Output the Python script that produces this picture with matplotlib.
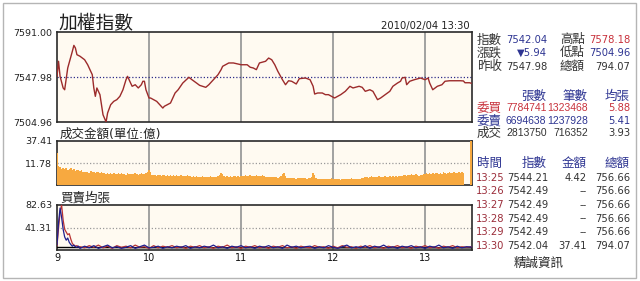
"""
TAIEX intraday snapshot (2010/02/04): index line, per-minute turnover and
average bid/ask size, with the quote board on the right.
"""
import matplotlib

matplotlib.use("Agg")
import matplotlib.pyplot as plt
import numpy as np
from matplotlib.patches import Rectangle

plt.rcParams["font.family"] = ["DejaVu Sans", "Noto Sans CJK TC"]

# ---------------------------------------------------------------------------
# Data (minutes after 09:00)
# ---------------------------------------------------------------------------

IDX_MIN = [
    0, 1, 2, 4, 5, 7, 10, 11, 12, 13,
    15, 18, 20, 23, 24, 25, 26, 28, 29, 30,
    32, 33, 35, 37, 39, 41, 43, 45, 46, 48,
    49, 51, 53, 55, 56, 57, 58, 60, 61, 63,
    65, 67, 69, 70, 74, 77, 79, 82, 86, 88,
    91, 93, 97, 99, 102, 105, 107, 108, 112, 115,
    118, 120, 124, 126, 128, 130, 132, 136, 138, 140,
    142, 144, 147, 149, 151, 153, 156, 158, 162, 165,
    167, 168, 170, 173, 175, 177, 179, 181, 185, 188,
    191, 193, 197, 199, 201, 204, 206, 209, 211, 214,
    217, 219, 222, 224, 225, 227, 228, 230, 233, 237,
    240, 242, 243, 245, 248, 251, 253, 256, 260, 263,
    265, 266, 269, 270,
]
IDX_VAL = [
    7548.5, 7563.0, 7548.6, 7537.5, 7535.8, 7556.6, 7572.5, 7578.2, 7575.7, 7569.3,
    7567.8, 7564.5, 7559.7, 7550.2, 7537.5, 7529.5, 7537.5, 7531.1, 7521.5, 7511.9,
    7504.96, 7513.6, 7521.5, 7524.7, 7526.3, 7529.5, 7535.8, 7545.4, 7548.6, 7542.2,
    7539.1, 7540.6, 7537.5, 7540.6, 7543.9, 7543.9, 7535.8, 7527.9, 7527.9, 7526.3,
    7524.7, 7521.5, 7518.3, 7520.0, 7523.1, 7532.7, 7535.8, 7542.2, 7547.7, 7545.4,
    7542.2, 7540.0, 7538.1, 7540.6, 7545.4, 7550.2, 7555.0, 7558.2, 7561.4, 7561.4,
    7560.4, 7559.7, 7559.7, 7557.3, 7556.6, 7555.0, 7561.4, 7563.0, 7566.1, 7564.5,
    7559.7, 7553.4, 7545.4, 7540.6, 7544.4, 7543.9, 7541.3, 7546.4, 7547.0, 7545.4,
    7539.1, 7531.7, 7532.7, 7532.7, 7531.1, 7531.1, 7529.5, 7527.9, 7531.1, 7534.3,
    7539.1, 7537.5, 7539.1, 7538.1, 7534.3, 7535.8, 7534.3, 7526.3, 7527.9, 7531.1,
    7534.3, 7539.1, 7542.2, 7543.9, 7547.0, 7547.7, 7540.6, 7543.9, 7545.4, 7547.0,
    7545.4, 7547.0, 7542.2, 7535.8, 7539.1, 7540.6, 7543.9, 7544.4, 7544.4, 7544.4,
    7544.21, 7542.49, 7542.49, 7542.04,
]
PREV_CLOSE = 7547.98
IDX_TICKS = [7504.96, 7547.98, 7591.00]

# turnover per minute (億), 09:00 .. 13:30
VOLUME = [
    22.0, 9.4, 8.1, 7.2, 7.8, 6.6, 7.3, 6.0, 6.9, 7.5,
    6.2, 6.8, 5.7, 6.4, 5.9, 5.3, 6.1, 4.8, 5.2, 4.6,
    5.0, 4.4, 5.3, 4.7, 4.9, 4.3, 5.1, 4.6, 4.2, 4.8,
    4.0, 4.5, 3.8, 4.2, 3.6, 4.1, 3.9, 4.4, 3.7, 3.5,
    4.0, 3.8, 4.3, 3.6, 3.9, 3.4, 4.1, 3.7, 3.5, 3.9,
    3.6, 4.2, 3.8, 3.3, 3.7, 4.0, 3.5, 3.8, 4.4, 5.1,
    6.0, 4.6, 3.4, 3.1, 3.3, 2.9, 3.2, 3.0, 2.8, 3.3,
    3.0, 2.7, 3.2, 2.9, 3.1, 2.6, 3.0, 2.8, 3.3, 2.9,
    2.7, 3.1, 2.8, 2.5, 2.9, 3.0, 2.6, 2.8, 2.4, 2.7,
    2.3, 2.5, 2.2, 2.4, 2.1, 2.6, 2.3, 2.0, 2.4, 2.2,
    2.5, 2.1, 2.3, 2.0, 2.4, 2.6, 3.2, 4.3, 3.6, 2.5,
    2.4, 2.7, 2.3, 2.6, 2.2, 2.5, 2.8, 2.4, 2.6, 2.3,
    2.7, 2.9, 2.6, 3.0, 2.8, 2.5, 3.1, 2.7, 2.9, 2.6,
    3.0, 2.8, 2.6, 2.9, 3.2, 2.7, 2.4, 2.2, 2.0, 2.3,
    2.1, 2.4, 2.0, 2.2, 1.9, 2.3, 2.6, 3.5, 4.0, 2.8,
    1.9, 1.7, 1.8, 1.6, 1.9, 1.7, 1.5, 1.8, 1.6, 1.9,
    1.7, 1.8, 1.6, 1.5, 1.9, 1.7, 2.4, 4.1, 3.3, 1.8,
    1.4, 1.3, 1.5, 1.2, 1.4, 1.3, 1.5, 1.2, 1.4, 1.6,
    1.3, 1.2, 1.4, 1.5, 1.3, 1.1, 1.4, 1.3, 1.2, 1.5,
    1.4, 1.3, 1.6, 1.2, 1.4, 1.3, 1.5, 1.4, 1.2, 1.6,
    1.7, 2.0, 2.3, 1.9, 2.2, 2.5, 2.1, 2.4, 2.0, 2.3,
    2.6, 2.2, 2.0, 2.4, 2.7, 2.1, 2.3, 2.5, 2.2, 2.6,
    2.4, 2.8, 2.3, 2.5, 2.9, 2.6, 3.0, 3.3, 2.9, 3.4,
    3.1, 3.5, 3.0, 3.3, 3.6, 3.2, 2.9, 3.4, 3.1, 3.5,
    3.9, 4.4, 3.7, 4.1, 3.8, 4.3, 3.6, 4.0, 4.5, 3.9,
    4.2, 3.8, 4.6, 4.1, 3.9, 4.4, 4.7, 4.0, 4.3, 4.8,
    4.5, 4.1, 4.9, 4.4, 4.6, 4.42, 0.0, 0.0, 0.0, 0.0,
    37.41,
]
VOL_TICKS = [11.78, 37.41]

# average lot size of bids / asks
SPREAD_MIN = list(range(0, 15)) + list(range(15, 271, 3))
BID_AVG = [
    8, 40, 70, 82.6, 55, 38, 33, 28, 30, 20, 12, 9, 7, 8, 6,
    6, 4, 8, 5, 9, 4, 7, 3, 8, 5,
    7, 4, 9, 5, 6, 3, 8, 4, 7, 5,
    8, 4, 6, 3, 7, 5, 8, 4, 6, 3,
    7, 5, 9, 4, 6, 3, 7, 5, 8, 4,
    6, 3, 7, 5, 8, 4, 6, 3, 7, 5,
    4, 8, 5, 6, 3, 7, 4, 8, 5, 6,
    3, 7, 5, 8, 4, 6, 3, 7, 5, 8,
    4, 6, 3, 7, 5, 8, 4, 6, 3, 7,
    5, 8, 4, 6, 5, 5.88,
]
ASK_AVG = [
    10, 50, 77, 60, 38, 24, 18, 22, 14, 10, 7, 9, 6, 5, 7,
    3, 7, 4, 8, 3, 6, 9, 4, 6, 3,
    5, 8, 3, 6, 9, 4, 5, 7, 3, 6,
    4, 7, 5, 8, 3, 6, 4, 7, 5, 9,
    4, 6, 3, 7, 5, 8, 4, 6, 3, 7,
    5, 8, 4, 6, 3, 9, 5, 7, 4, 6,
    7, 3, 6, 4, 8, 5, 3, 6, 9, 4,
    6, 4, 8, 3, 7, 5, 9, 4, 6, 3,
    7, 5, 8, 4, 6, 3, 7, 5, 9, 4,
    6, 3, 7, 4, 6, 5.41,
]
DEAL_MIN = [0, 90, 270]
DEAL_AVG = [4.6, 4.1, 3.93]
SPREAD_TICKS = [41.31, 82.63]

HOUR_LABELS = ["9", "10", "11", "12", "13"]

# ---------------------------------------------------------------------------
# Style
# ---------------------------------------------------------------------------

W, H = 640, 281
PLOT_L, PLOT_R = 57, 472
X_MAX = 270.6
BG = "#fffaf1"
GRID = "#9a9a9a"
FRAME = "#2a2a2a"
DARK = "#333333"
BLUE = "#2e3592"
RED = "#c8323c"
TIME_RED = "#9b2d3a"
LINE_RED = "#9c2b2b"
ORANGE = "#f7a940"
NUM_SIZE = 7.2
CJK_SIZE = 9


def _axes(fig, top, bottom):
    ax = fig.add_axes([PLOT_L / W, 1 - bottom / H, (PLOT_R - PLOT_L) / W, (bottom - top) / H])
    ax.set_facecolor(BG)
    ax.set_xlim(0, X_MAX)
    for m in range(60, 271, 60):
        ax.axvline(m, color=GRID, lw=1.3, zorder=1)
    ax.set_xticks([])
    ax.tick_params(axis="y", length=0, labelsize=6.8, pad=3.6, labelcolor="#222")
    for sp in ax.spines.values():
        sp.set_color(FRAME)
        sp.set_linewidth(1.2)
    return ax


def _txt(fig, x, y, s, color=DARK, size=NUM_SIZE, ha="left", family=None):
    kw = {"family": family} if family else {}
    fig.text(x / W, 1 - y / H, s, color=color, fontsize=size, ha=ha, va="center", **kw)


# ---------------------------------------------------------------------------
# Figure
# ---------------------------------------------------------------------------

fig = plt.figure(figsize=(W / 100, H / 100), dpi=100)
fig.patch.set_facecolor("white")
fig.patches.append(
    Rectangle((3 / W, 3 / H), 633 / W, 275 / H, transform=fig.transFigure,
              fill=False, ec="#b5b5b5", lw=1.0)
)

# index line
ax1 = _axes(fig, 32, 122)
ax1.set_ylim(IDX_TICKS[0], IDX_TICKS[-1])
ax1.set_yticks(IDX_TICKS, [f"{v:.2f}" for v in IDX_TICKS])
ax1.axhline(PREV_CLOSE, color="#2e2e8a", lw=0.9, ls=(0, (1, 1.6)), zorder=2)
ax1.plot(IDX_MIN, IDX_VAL, color=LINE_RED, lw=1.0, zorder=3)

# turnover
ax2 = _axes(fig, 141, 185)
ax2.set_yscale("function", functions=(lambda v: np.power(np.clip(v, 0, None), 0.6),
                                      lambda v: np.power(np.clip(v, 0, None), 1 / 0.6)))
ax2.set_ylim(0, VOL_TICKS[-1])
ax2.set_yticks(VOL_TICKS, [f"{v:.2f}" for v in VOL_TICKS])
ax2.yaxis.set_minor_locator(matplotlib.ticker.NullLocator())
ax2.axhline(VOL_TICKS[0], color=GRID, lw=0.9, ls=(0, (1, 1.6)), zorder=2)
ax2.bar(np.arange(len(VOLUME)), VOLUME, width=1.0, color=ORANGE, lw=0, zorder=3)

# bid / ask average size
ax3 = _axes(fig, 205, 250)
ax3.set_ylim(0, SPREAD_TICKS[-1])
ax3.set_yticks(SPREAD_TICKS, [f"{v:.2f}" for v in SPREAD_TICKS])
ax3.axhline(SPREAD_TICKS[0], color=GRID, lw=0.9, ls=(0, (1, 1.6)), zorder=2)
ax3.plot(DEAL_MIN, DEAL_AVG, color="black", lw=1.0, zorder=3)
ax3.plot(SPREAD_MIN, BID_AVG, color="#b83232", lw=0.9, zorder=4)
ax3.plot(SPREAD_MIN, ASK_AVG, color="#1f1f8f", lw=0.9, zorder=4)
ax3.set_xticks(range(0, 241, 60), HOUR_LABELS)
ax3.tick_params(axis="x", length=0, labelsize=7, pad=2, labelcolor="#111")

# titles
_txt(fig, 58, 24, "加權指數", color="#222", size=13.5)
_txt(fig, 470, 26, "2010/02/04 13:30", color="#222", ha="right")
_txt(fig, 60, 134, "成交金額(單位:億)", color="#222", size=CJK_SIZE)
_txt(fig, 60, 198, "買賣均張", color="#222", size=CJK_SIZE)

# quote board
_txt(fig, 477, 40, "指數", size=CJK_SIZE)
_txt(fig, 547, 40, "7542.04", color=BLUE, ha="right")
_txt(fig, 560, 40, "高點", size=CJK_SIZE)
_txt(fig, 630, 40, "7578.18", color=RED, ha="right")
_txt(fig, 477, 53, "漲跌", size=CJK_SIZE)
_txt(fig, 547, 53, "▼5.94", color=BLUE, ha="right")
_txt(fig, 560, 53, "低點", size=CJK_SIZE)
_txt(fig, 630, 53, "7504.96", color=BLUE, ha="right")
_txt(fig, 477, 66.5, "昨收", size=CJK_SIZE)
_txt(fig, 547, 66.5, "7547.98", ha="right")
_txt(fig, 560, 66.5, "總額", size=CJK_SIZE)
_txt(fig, 630, 66.5, "794.07", ha="right")

_txt(fig, 546, 96.5, "張數", color=BLUE, size=CJK_SIZE, ha="right")
_txt(fig, 587, 96.5, "筆數", color=BLUE, size=CJK_SIZE, ha="right")
_txt(fig, 630, 96.5, "均張", color=BLUE, size=CJK_SIZE, ha="right")
board = [
    ("委買", "7784741", "1323468", "5.88", RED),
    ("委賣", "6694638", "1237928", "5.41", BLUE),
    ("成交", "2813750", "716352", "3.93", DARK),
]
for i, (name, lots, orders, avg, col) in enumerate(board):
    y = 108.5 + i * 12.4
    _txt(fig, 477, y, name, color=col, size=CJK_SIZE)
    _txt(fig, 506, y, lots, color=col, size=7.5, family="Liberation Sans")
    _txt(fig, 588, y, orders, color=col, size=7.5, ha="right", family="Liberation Sans")
    _txt(fig, 630, y, avg, color=col, ha="right")

_txt(fig, 477, 163, "時間", color=BLUE, size=CJK_SIZE)
_txt(fig, 547, 163, "指數", color=BLUE, size=CJK_SIZE, ha="right")
_txt(fig, 587, 163, "金額", color=BLUE, size=CJK_SIZE, ha="right")
_txt(fig, 630, 163, "總額", color=BLUE, size=CJK_SIZE, ha="right")
last_minutes = [
    ("13:25", "7544.21", "4.42", "756.66"),
    ("13:26", "7542.49", "--", "756.66"),
    ("13:27", "7542.49", "--", "756.66"),
    ("13:28", "7542.49", "--", "756.66"),
    ("13:29", "7542.49", "--", "756.66"),
    ("13:30", "7542.04", "37.41", "794.07"),
]
for i, (t, idx, amt, tot) in enumerate(last_minutes):
    y = 177.7 + i * 13.6
    _txt(fig, 476, y, t, color=TIME_RED)
    _txt(fig, 548, y, idx, ha="right")
    _txt(fig, 587, y, amt, ha="right")
    _txt(fig, 630, y, tot, ha="right")

_txt(fig, 539, 263, "精誠資訊", color="#222", size=CJK_SIZE, ha="center")

fig.savefig("out.png", dpi=100)
